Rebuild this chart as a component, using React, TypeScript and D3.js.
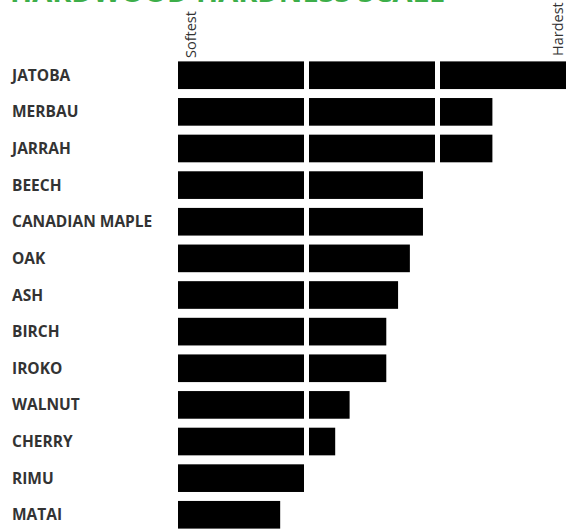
import React from "react";
import * as d3 from "d3";

const woods = [
  "JATOBA", "MERBAU", "JARRAH", "BEECH", "CANADIAN MAPLE", "OAK", "ASH",
  "BIRCH", "IROKO", "WALNUT", "CHERRY", "RIMU", "MATAI",
];
const hardness = [3.0, 2.4, 2.4, 1.87, 1.87, 1.77, 1.68, 1.59, 1.59, 1.31, 1.2, 1.0, 0.78];
const scaleEnds = ["Softest", "Hardest"];
const title = "HARDWOOD HARDNESS SCALE";

const W = 571;
const H = 529;

export default function App() {
  const x = d3.scaleLinear().domain([0, 3]).range([178, 571]);
  const y = d3.scaleBand<string>().domain(woods).range([57, 533]).paddingInner(0.245).paddingOuter(0.12);
  const gap = 5;

  return (
    <svg width={W} height={H} style={{ position: "absolute", left: 0, top: 0, background: "#fff" }}>
      <text x={10} y={2} fontFamily="Open Sans, sans-serif" fontWeight={700} fontSize={29} fill="#3dae49">
        {title}
      </text>
      <text
        transform={`translate(${x(0) + 18},58) rotate(-90)`}
        textAnchor="start"
        fontFamily="Open Sans, sans-serif"
        fontSize={14.5}
        fill="#333"
      >
        {scaleEnds[0]}
      </text>
      <text
        transform={`translate(${x(3) - 8},56) rotate(-90)`}
        textAnchor="start"
        fontFamily="Open Sans, sans-serif"
        fontSize={14.5}
        fill="#333"
      >
        {scaleEnds[1]}
      </text>
      {woods.map((w, i) => {
        const v = hardness[i];
        const yy = y(w)!;
        const segs: React.ReactNode[] = [];
        for (let k = 0; k < Math.ceil(v); k++) {
          const x0 = x(k);
          const x1 = Math.min(x(k + 1) - gap, x(v));
          segs.push(<rect key={k} x={x0} y={yy} width={x1 - x0} height={y.bandwidth()} fill="#000" />);
        }
        return (
          <g key={w}>
            <text
              x={12}
              y={yy + y.bandwidth() / 2}
              dy="0.36em"
              fontFamily="Open Sans, sans-serif"
              fontWeight={700}
              fontSize={15.5}
              fill="#333"
            >
              {w}
            </text>
            {segs}
          </g>
        );
      })}
    </svg>
  );
}
